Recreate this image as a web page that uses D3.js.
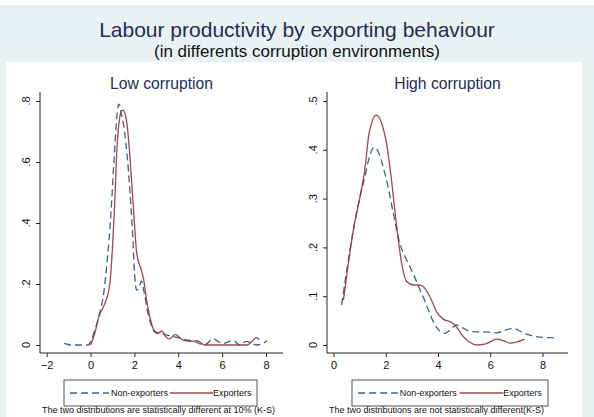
<!DOCTYPE html>
<html>
<head>
<meta charset="utf-8">
<script src="https://cdn.jsdelivr.net/npm/d3@7"></script>
<style>
  body { margin: 0; background: #fff; }
  svg { display: block; font-family: "Liberation Sans", Arial, sans-serif; }
</style>
</head>
<body>
<div id="chart"></div>
<script>
// Kernel densities of labour productivity, exporters vs non-exporters

const seriesNames = ["Non-exporters", "Exporters"];

// Low corruption
const lowNonX = [-1.2, -0.9, -0.5, -0.1, 0.0, 0.2, 0.45, 0.6, 0.75, 0.91, 1.09, 1.2, 1.29, 1.4, 1.55, 1.67, 1.8, 1.92, 2.02, 2.1, 2.2, 2.32, 2.45, 2.6, 2.8, 3.03, 3.35, 3.65, 3.95, 4.3, 4.7, 5.2, 5.58, 6.03, 6.5, 6.8, 7.1, 7.6, 8.05];
const lowNonY = [0.005, 0.0, 0.0, 0.0, 0.01, 0.05, 0.115, 0.17, 0.27, 0.41, 0.63, 0.75, 0.79, 0.76, 0.7, 0.62, 0.5, 0.36, 0.22, 0.18, 0.185, 0.21, 0.17, 0.11, 0.06, 0.04, 0.035, 0.03, 0.025, 0.018, 0.012, 0.0, 0.02, 0.005, 0.015, 0.0, 0.012, 0.0, 0.013];
const lowExpX = [0.0, 0.2, 0.38, 0.55, 0.7, 0.88, 1.0, 1.1, 1.2, 1.3, 1.4, 1.48, 1.58, 1.67, 1.78, 1.89, 2.0, 2.09, 2.2, 2.32, 2.42, 2.55, 2.68, 2.82, 2.95, 3.1, 3.26, 3.4, 3.6, 3.86, 4.05, 4.3, 4.6, 4.85, 5.2, 6.0, 7.15, 7.4, 7.55, 7.7];
const lowExpY = [0.0, 0.04, 0.093, 0.12, 0.145, 0.2, 0.32, 0.46, 0.64, 0.73, 0.765, 0.77, 0.755, 0.72, 0.63, 0.52, 0.4, 0.31, 0.27, 0.245, 0.215, 0.15, 0.1, 0.06, 0.04, 0.04, 0.046, 0.03, 0.02, 0.035, 0.025, 0.014, 0.012, 0.014, 0.0, 0.0, 0.0, 0.015, 0.024, 0.018];

// High corruption
const highNonX = [0.31, 0.5, 0.76, 1.0, 1.2, 1.4, 1.56, 1.72, 1.9, 2.03, 2.29, 2.54, 2.75, 2.93, 3.1, 3.31, 3.5, 3.63, 3.8, 3.95, 4.1, 4.26, 4.45, 4.71, 4.95, 5.22, 5.5, 5.73, 6.0, 6.24, 6.55, 6.88, 7.2, 7.51, 7.9, 8.3, 8.6];
const highNonY = [0.082, 0.15, 0.236, 0.3, 0.345, 0.39, 0.405, 0.395, 0.365, 0.338, 0.27, 0.208, 0.18, 0.16, 0.14, 0.113, 0.09, 0.072, 0.05, 0.036, 0.027, 0.024, 0.03, 0.041, 0.035, 0.028, 0.027, 0.027, 0.026, 0.025, 0.03, 0.034, 0.027, 0.02, 0.016, 0.015, 0.014];
const highExpX = [0.38, 0.55, 0.76, 1.0, 1.2, 1.35, 1.46, 1.63, 1.84, 2.03, 2.22, 2.42, 2.61, 2.8, 3.06, 3.25, 3.43, 3.69, 3.95, 4.2, 4.45, 4.6, 4.8, 4.97, 5.2, 5.48, 5.86, 6.05, 6.24, 6.5, 6.75, 7.0, 7.32];
const highExpY = [0.092, 0.16, 0.236, 0.3, 0.36, 0.43, 0.455, 0.471, 0.455, 0.413, 0.338, 0.242, 0.167, 0.13, 0.123, 0.123, 0.12, 0.099, 0.068, 0.053, 0.048, 0.043, 0.03, 0.017, 0.006, 0.0, 0.003, 0.008, 0.012, 0.009, 0.004, 0.006, 0.012];

const lowXTicks = [-2, 0, 2, 4, 6, 8];
const lowYTicks = [0, 0.2, 0.4, 0.6, 0.8];
const highXTicks = [0, 2, 4, 6, 8];
const highYTicks = [0, 0.1, 0.2, 0.3, 0.4, 0.5];

const width = 594, height = 417;
const navy = "#1a476f", maroon = "#90353b", titleColor = "#1f2d57";

const svg = d3.select("#chart").append("svg")
  .attr("width", width)
  .attr("height", height);

// graph region + plot region backgrounds
svg.append("rect").attr("x", 0).attr("y", 5).attr("width", width).attr("height", height - 5).attr("fill", "#eaf1f3");
svg.append("rect").attr("x", 6).attr("y", 62).attr("width", 576).attr("height", height - 62).attr("fill", "#fff");

svg.append("text")
  .attr("x", width / 2).attr("y", 37)
  .attr("text-anchor", "middle")
  .attr("font-size", 21)
  .attr("fill", titleColor)
  .text("Labour productivity by exporting behaviour");

svg.append("text")
  .attr("x", width / 2).attr("y", 57)
  .attr("text-anchor", "middle")
  .attr("font-size", 17)
  .attr("fill", "#111")
  .text("(in differents corruption environments)");

const zip = (xs, ys) => xs.map((x, i) => ({ x: x, y: ys[i] }));

function drawPanel(p) {
  const x = d3.scaleLinear().domain(p.xDomain).range(p.xRange);
  const y = d3.scaleLinear().domain(p.yDomain).range([345, 101]);
  const g = svg.append("g");

  g.append("text")
    .attr("x", (p.left + p.right) / 2).attr("y", 89)
    .attr("text-anchor", "middle")
    .attr("font-size", 15.7)
    .attr("fill", titleColor)
    .text(p.title);

  const line = d3.line().x(d => x(d.x)).y(d => y(d.y)).curve(d3.curveMonotoneX);

  g.append("path")
    .datum(zip(p.nonX, p.nonY))
    .attr("fill", "none")
    .attr("stroke", navy)
    .attr("stroke-width", 1.3)
    .attr("stroke-dasharray", "7,4")
    .attr("opacity", 0.85)
    .attr("d", line);

  g.append("path")
    .datum(zip(p.expX, p.expY))
    .attr("fill", "none")
    .attr("stroke", maroon)
    .attr("stroke-width", 1.3)
    .attr("opacity", 0.9)
    .attr("d", line);

  // y axis, labels rotated like Stata
  const yAxis = g.append("g")
    .attr("transform", `translate(${p.left},0)`)
    .call(d3.axisLeft(y).tickValues(p.yTicks).tickSize(4).tickFormat(""));
  yAxis.select(".domain").remove();
  yAxis.selectAll("line").attr("stroke", "#222");
  g.append("g")
    .selectAll("text")
    .data(p.yTicks)
    .join("text")
    .attr("transform", d => `translate(${p.left - 10},${y(d)}) rotate(-90)`)
    .attr("text-anchor", "middle")
    .attr("font-size", 11)
    .attr("fill", "#111")
    .text(d => d === 0 ? "0" : d3.format(".1f")(d).replace(/^0/, ""));
  g.append("line")
    .attr("x1", p.left).attr("x2", p.left).attr("y1", 92).attr("y2", 353)
    .attr("stroke", "#222");

  // x axis
  const xAxis = g.append("g")
    .attr("transform", "translate(0,353)")
    .call(d3.axisBottom(x).tickValues(p.xTicks).tickSize(4));
  xAxis.select(".domain").remove();
  xAxis.selectAll("text")
    .attr("y", 8).attr("dy", "0.71em")
    .attr("font-size", 11)
    .attr("font-family", "Liberation Sans, Arial, sans-serif")
    .attr("fill", "#111");
  xAxis.selectAll("line").attr("stroke", "#222");
  g.append("line")
    .attr("x1", p.left).attr("x2", p.right).attr("y1", 353).attr("y2", 353)
    .attr("stroke", "#222");

  // legend
  const lg = g.append("g").attr("transform", `translate(${p.legendX},380)`);
  lg.append("rect")
    .attr("width", p.legendW).attr("height", 26)
    .attr("fill", "#fff").attr("stroke", "#555").attr("stroke-width", 1);
  const k = p.legendW / 193;
  lg.append("line").attr("x1", 6 * k).attr("x2", 45 * k).attr("y1", 13).attr("y2", 13)
    .attr("stroke", navy).attr("stroke-width", 1.3).attr("stroke-dasharray", "7,4").attr("opacity", 0.85);
  lg.append("text").attr("x", 47 * k).attr("y", 16).attr("font-size", 9).attr("fill", "#111").text(seriesNames[0]);
  lg.append("line").attr("x1", 106 * k).attr("x2", 149 * k).attr("y1", 13).attr("y2", 13)
    .attr("stroke", maroon).attr("stroke-width", 1.3).attr("opacity", 0.9);
  lg.append("text").attr("x", 149 * k).attr("y", 16).attr("font-size", 9).attr("fill", "#111").text(seriesNames[1]);

  g.append("text")
    .attr("x", p.left + 2).attr("y", 413)
    .attr("font-size", 9)
    .attr("fill", "#111")
    .text(p.note);
}

drawPanel({
  title: "Low corruption",
  left: 40, right: 283,
  xDomain: [-2, 8], xRange: [46.7, 266],
  yDomain: [0, 0.8],
  xTicks: lowXTicks, yTicks: lowYTicks,
  nonX: lowNonX, nonY: lowNonY, expX: lowExpX, expY: lowExpY,
  legendX: 64, legendW: 193,
  note: "The two distributions are statistically different at 10% (K-S)"
});

drawPanel({
  title: "High corruption",
  left: 327, right: 568,
  xDomain: [0, 8], xRange: [333.5, 542.5],
  yDomain: [0, 0.5],
  xTicks: highXTicks, yTicks: highYTicks,
  nonX: highNonX, nonY: highNonY, expX: highExpX, expY: highExpY,
  legendX: 352, legendW: 196,
  note: "The two distributions are not statistically different(K-S)"
});
</script>
</body>
</html>
